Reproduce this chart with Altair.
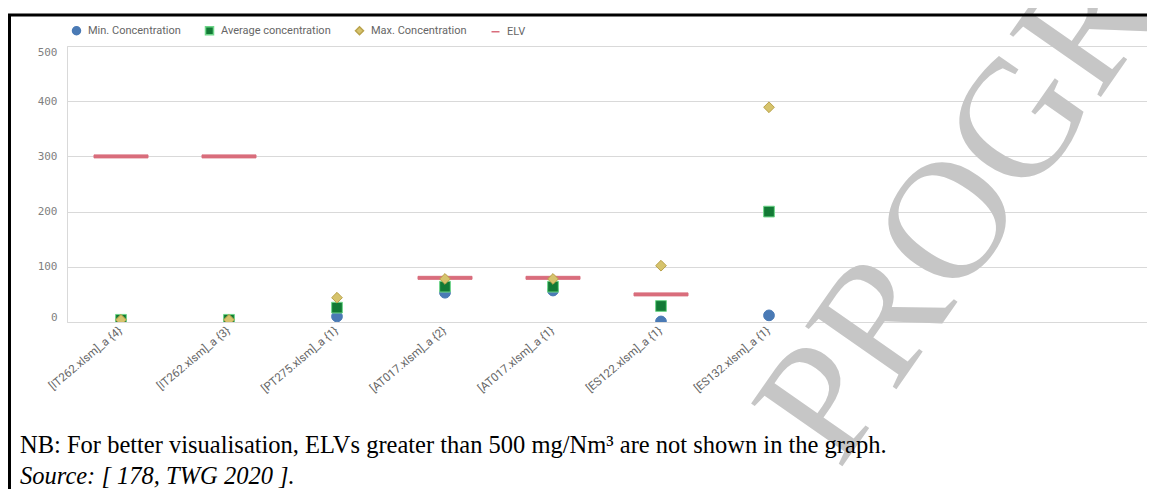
import altair as alt
import pandas as pd

categories = ["[IT262.xlsm]_a {4}", "[IT262.xlsm]_a {3}", "[PT275.xlsm]_a {1}",
              "[AT017.xlsm]_a {2}", "[AT017.xlsm]_a {1}", "[ES122.xlsm]_a {1}",
              "[ES132.xlsm]_a {1}"]
min_conc = [2, 2, 10, 53, 57, 1, 12]
avg_conc = [4, 4, 26, 64, 64, 29, 200]
max_conc = [4, 4, 44, 78, 78, 102, 389]
elv = [300, 300, None, 80, 80, 50, None]

series_names = ["Min. Concentration", "Average concentration", "Max. Concentration", "ELV"]
fills = ["#4a7ab5", "#127a35", "#d6c36c", "#d96d7c"]
strokes = ["#4a7ab5", "#6fd68a", "#b9a24b", "#d96d7c"]
shapes = ["circle", "square", "diamond", "stroke"]

note = "NB: For better visualisation, ELVs greater than 500 mg/Nm\u00b3 are not shown in the graph."
source = "Source: [ 178, TWG 2020 ]."
watermark = "PROGRESS"

blanks = [" ", "  ", "   "]
x_domain = categories + blanks

rows = []
for name, vals in zip(series_names, [min_conc, avg_conc, max_conc, elv]):
    for c, v in zip(categories, vals):
        if v is not None:
            rows.append({"category": c, "series": name, "value": v,
                         "order": series_names.index(name)})
df = pd.DataFrame(rows)

x_enc = alt.X("category:N", scale=alt.Scale(domain=x_domain, paddingInner=0, paddingOuter=0),
              sort=None,
              axis=alt.Axis(title=None, labelAngle=320, labelAlign="right", labelBaseline="middle",
                            labelFont="Roboto", labelFontSize=11.5, labelColor="#666666",
                            labelPadding=7, ticks=False, domain=False, grid=False))
y_enc = alt.Y("value:Q", scale=alt.Scale(domain=[0, 500], nice=False),
              axis=alt.Axis(title=None, values=[0, 100, 200, 300, 400, 500], labelFlush=True,
                            labelFont="DejaVu Sans Mono", labelFontSize=11, labelColor="#7f7f7f",
                            labelPadding=10, ticks=False, domain=True, domainColor="#d9d9d9",
                            gridColor="#d9d9d9", gridWidth=1))

fill_enc = alt.Fill("series:N", scale=alt.Scale(domain=series_names, range=fills),
                    legend=alt.Legend(title=None, orient="none", direction="horizontal",
                                      legendX=4, legendY=-21,
                                      labelFont="Roboto", labelFontSize=11, labelColor="#666666",
                                      symbolSize=64, symbolStrokeWidth=1.5, columnPadding=21,
                                      labelOffset=6))
stroke_enc = alt.Stroke("series:N", scale=alt.Scale(domain=series_names, range=strokes))
shape_enc = alt.Shape("series:N", scale=alt.Scale(domain=series_names, range=shapes))

wm_layer = alt.Chart(pd.DataFrame({"t": [watermark]})).mark_text(
    align="left", baseline="alphabetic", font="Liberation Serif", fontSize=169,
    angle=305, color="#c6c6c6"
).encode(text="t:N", x=alt.value(772), y=alt.value(425))

elv_layer = alt.Chart(df).transform_filter(alt.datum.series == "ELV").mark_tick(
    size=54, thickness=3, clip=True, opacity=1
).encode(x=x_enc, y=y_enc, fill=fill_enc, stroke=stroke_enc)

points = alt.Chart(df).transform_filter(alt.datum.series != "ELV").mark_point(
    filled=True, size=115, strokeWidth=1, opacity=1, clip=True
).encode(x=x_enc, y=y_enc, fill=fill_enc, stroke=stroke_enc, shape=shape_enc,
         order=alt.Order("order:Q"))

one = pd.DataFrame({"k": [0]})
frame_top = alt.Chart(one).mark_rule(color="black", strokeWidth=3).encode(
    x=alt.value(-59), x2=alt.value(1090), y=alt.value(-31))
frame_left = alt.Chart(one).mark_rule(color="black", strokeWidth=3).encode(
    x=alt.value(-57.5), y=alt.value(-32), y2=alt.value(460))

note_layer = alt.Chart(pd.DataFrame({"t": [note]})).mark_text(
    align="left", baseline="alphabetic", font="Liberation Serif", fontSize=24.5, color="black"
).encode(text="t:N", x=alt.value(-47), y=alt.value(407))
source_layer = alt.Chart(pd.DataFrame({"t": [source]})).mark_text(
    align="left", baseline="alphabetic", font="Liberation Serif", fontSize=24.5,
    fontStyle="italic", color="black"
).encode(text="t:N", x=alt.value(-47), y=alt.value(438))

chart = alt.layer(wm_layer, elv_layer, points, frame_top, frame_left, note_layer,
                  source_layer).properties(
    width=1080, height=276,
    autosize=alt.AutoSizeParams(type="none"),
    padding={"left": 59, "top": 38, "right": 0, "bottom": 167},
).configure_view(stroke=None).configure(background="white")

chart.save("out.html", embed_options={"renderer": "svg", "actions": False})
